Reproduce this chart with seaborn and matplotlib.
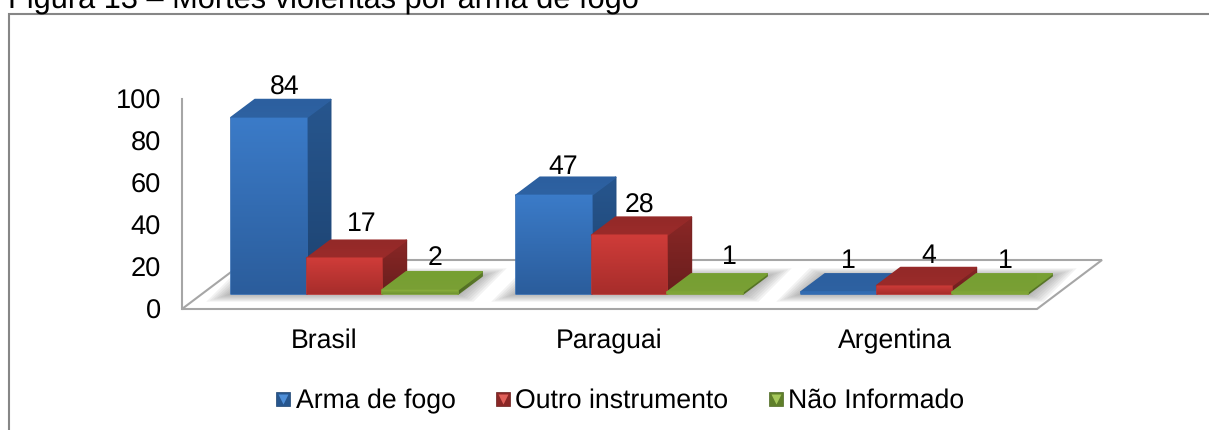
import matplotlib
matplotlib.use('Agg')
import matplotlib.pyplot as plt
import seaborn as sns
import numpy as np
import pandas as pd
from matplotlib.colors import LinearSegmentedColormap, to_rgb
from matplotlib.legend_handler import HandlerTuple
from matplotlib.lines import Line2D
from matplotlib.patches import Polygon, Rectangle

countries = ['Brasil', 'Paraguai', 'Argentina']
series_names = ['Arma de fogo', 'Outro instrumento', 'Não Informado']
arma_de_fogo = [84, 47, 1]
outro_instrumento = [17, 28, 4]
nao_informado = [2, 1, 1]
y_ticks = [0, 20, 40, 60, 80, 100]
title_text = 'Figura 13 – Mortes violentas por arma de fogo'

colors = ['#35699f', '#b8322f', '#7ea335']
front_grad = [('#3b7bc8', '#2b5d9c'), ('#cf3c39', '#a72d2b'), ('#8fb53e', '#6f9330')]
top_grad = [('#2c5f9f', '#2e62a2'), ('#932928', '#9b2b2a'), ('#76a032', '#7a9f35')]
side_grad = [('#27568e', '#1d4371'), ('#8a2726', '#691e1d'), ('#5f7f2a', '#4f6a23')]
legend_light = ['#4f8fd8', '#e0605a', '#a5c85a']

# label tweaks in pixels, (series, country)
label_nudge = {(0, 1): (-7, -2), (1, 1): (-6, -1), (2, 1): (8, 5), (1, 0): (1, 4), (2, 0): (-1, 2),
               (0, 2): (-6, 1), (1, 2): (-2, 0), (2, 2): (-1, 1)}

sns.set_theme(style='white')
plt.rcParams['font.family'] = ['Liberation Sans', 'DejaVu Sans']
plt.rcParams['text.hinting'] = 'none'
plt.rcParams['text.color'] = 'black'

df = pd.DataFrame({
    'pais': countries * 3,
    'serie': np.repeat(series_names, 3),
    'valor': arma_de_fogo + outro_instrumento + nao_informado,
})

W, H = 1209, 430
fig = plt.figure(figsize=(W / 100, H / 100), dpi=100)
ax = fig.add_axes([182 / W, (H - 309) / H, 855 / W, 210 / H])

sns.barplot(data=df, x='pais', y='valor', hue='serie', order=countries,
            hue_order=series_names, palette=colors, width=0.797, gap=0,
            errorbar=None, legend=False, ax=ax)
ax.set_xlim(-0.5, 2.5)
ax.set_ylim(0, 100)

# pixel sizes turned into data units
px_x = 3 / 855
px_y = 100 / 210
shift_x = 20 * px_x
shift_y = 15 * px_y
depth_x = 24 * px_x
depth_y = 18 * px_y


def gradient_poly(pts, c_top, c_bottom, z):
    pts = np.array(pts)
    cmap = LinearSegmentedColormap.from_list('g', [c_top, c_bottom])
    mid = tuple((np.array(to_rgb(c_top)) + np.array(to_rgb(c_bottom))) / 2)
    poly = Polygon(pts, closed=True, facecolor=mid, edgecolor=mid, lw=1.2,
                   joinstyle='round', zorder=z, clip_on=False)
    ax.add_patch(poly)
    if np.ptp(pts[:, 1]) > 1:
        im = ax.imshow(np.linspace(0, 1, 64).reshape(-1, 1), cmap=cmap, aspect='auto',
                       extent=[pts[:, 0].min(), pts[:, 0].max(), pts[:, 1].min(), pts[:, 1].max()],
                       zorder=z + 0.01)
        im.set_clip_path(poly)


# floor
fl_x = 65 * px_x
fl_y = 49 * px_y
floor = Polygon([(-0.5, 0), (2.5, 0), (2.5 + fl_x, fl_y), (-0.5 + fl_x, fl_y)], closed=True,
                facecolor='white', edgecolor='#a6a6a6', lw=1.5, zorder=1, clip_on=False)
ax.add_patch(floor)

bars = list(ax.patches)[:9]
# shadow around the foot of each group
for g in range(3):
    group = bars[g::3]
    x0 = group[0].get_x() + shift_x
    x1 = group[-1].get_x() + group[-1].get_width() + shift_x
    for k in range(7):
        grow = (7 - k) * 2.2
        ex = grow * px_x
        ey = grow * 0.5 * px_y
        ax.add_patch(Polygon([(x0 - ex * 1.6, shift_y - ey), (x1 + ex, shift_y - ey),
                              (x1 + depth_x + ex * 1.6, shift_y + depth_y + ey),
                              (x0 + depth_x - ex, shift_y + depth_y + ey)],
                             closed=True, facecolor='#707070', edgecolor='none',
                             alpha=0.09, zorder=1.5, clip_on=False))

order = sorted(range(9), key=lambda i: (bars[i].get_x()))
z = 3
for i in order:
    p = bars[i]
    s = i // 3
    c = i % 3
    value = p.get_height()
    x0 = p.get_x() + shift_x
    x1 = x0 + p.get_width()
    y0 = shift_y
    y1 = shift_y + value
    p.set_visible(False)
    gradient_poly([(x1, y0), (x1 + depth_x, y0 + depth_y), (x1 + depth_x, y1 + depth_y), (x1, y1)],
                  side_grad[s][0], side_grad[s][1], z)
    gradient_poly([(x0, y1), (x1, y1), (x1 + depth_x, y1 + depth_y), (x0 + depth_x, y1 + depth_y)],
                  top_grad[s][0], top_grad[s][1], z + 0.1)
    gradient_poly([(x0, y0), (x1, y0), (x1, y1), (x0, y1)],
                  front_grad[s][0], front_grad[s][1], z + 0.2)
    nx, ny = label_nudge.get((s, c), (0, 0))
    ax.annotate(f'{value:.0f}', ((x0 + x1) / 2 + depth_x * 0.67, y1 + depth_y), xytext=(nx, 5 + ny),
                textcoords='offset pixels', ha='center', va='baseline', fontsize=19.2,
                color='black', zorder=20, annotation_clip=False)
    z += 1

ax.set_xlim(-0.5, 2.5)
ax.set_ylim(0, 100)
ax.set_yticks(y_ticks)
ax.set_xticks(range(3))
ax.set_xticklabels(countries)
ax.set_xlabel('')
ax.set_ylabel('')
ax.tick_params(axis='y', labelsize=19.6, length=0, pad=15, colors='black')
ax.tick_params(axis='x', labelsize=19.2, length=0, pad=14, colors='black')
sns.despine(ax=ax, top=True, right=True, bottom=True)
ax.spines['left'].set_color('#a6a6a6')
ax.spines['left'].set_linewidth(1.5)
ax.patch.set_visible(False)

# legend with the little bevelled squares
handles = []
for s in range(3):
    handles.append((Line2D([], [], marker='s', ms=10.5, ls='none', mfc=side_grad[s][0], mec=side_grad[s][1], mew=0.5),
                    Line2D([], [], marker='v', ms=7.5, ls='none', mfc=legend_light[s], mec='none')))
fig.legend(handles, series_names, handler_map={tuple: HandlerTuple(ndivide=1, pad=0)},
           loc='center', bbox_to_anchor=(620 / W, (H - 401) / H), ncol=3, frameon=False,
           fontsize=19.2, labelcolor='black', handlelength=0.57, handletextpad=0.19, columnspacing=1.48)

# outer frame, left open past the picture's edges
fig.add_artist(Rectangle((8.5 / W, -0.05), 1.2, 1 - 13.5 / H + 0.05, transform=fig.transFigure,
                         facecolor='none', edgecolor='#868686', lw=1.5))
fig.text(8 / W, 1 - 7.5 / H, title_text, fontsize=22.15, ha='left', va='baseline', color='black')

fig.savefig('out.png', dpi=100)
